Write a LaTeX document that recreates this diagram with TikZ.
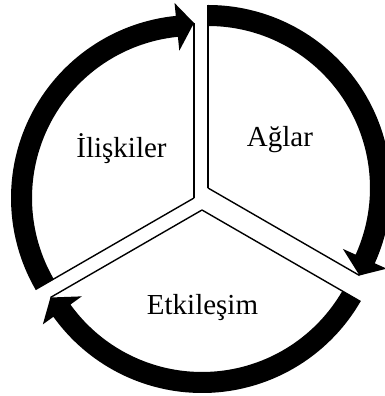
\documentclass[tikz,border=0pt]{standalone}
\usepackage{fontspec}
\setmainfont{Liberation Serif}
\usetikzlibrary{calc}
\newcommand{\cyclearrow}[3]{%
  % #1 centre, #2 start angle, #3 tip angle
  \pgfmathsetmacro{\hb}{#3+5.7}%
  \draw[thinedge] (#1) -- ($(#1)+(#2:183)$);
  \draw[thinedge] (#1) -- ($(#1)+(#3:175)$);
  \fill[arrowfill] ($(#1)+(#2:183)$) arc[start angle=#2, end angle=\hb, radius=183]
    -- ($(#1)+(\hb:196)$) -- ($(#1)+(#3:175)$) -- ($(#1)+(\hb:148)$)
    -- ($(#1)+(\hb:162)$) arc[start angle=\hb, end angle=#2, radius=162] -- cycle;
}
\begin{document}
\begin{tikzpicture}[x=1pt,y=1pt,
  thinedge/.style={line width=1.4pt, black},
  arrowfill/.style={fill=black},
  label/.style={font=\fontsize{29}{34}\selectfont, anchor=base, inner sep=0pt}]
\path[use as bounding box, fill=white] (0,0) rectangle (385,396);
\coordinate (A) at (208,208);
\coordinate (I) at (194,198);
\coordinate (E) at (202,186);
\cyclearrow{A}{90}{-30}
\cyclearrow{I}{210}{90}
\cyclearrow{E}{330}{210}
\node[label] (ag) at (280,249) {Ağlar};
\node[label] (il) at (121.5,238.5) {İlişkiler};
\node[label] (et) at (202.5,81) {Etkileşim};
\end{tikzpicture}
\end{document}
